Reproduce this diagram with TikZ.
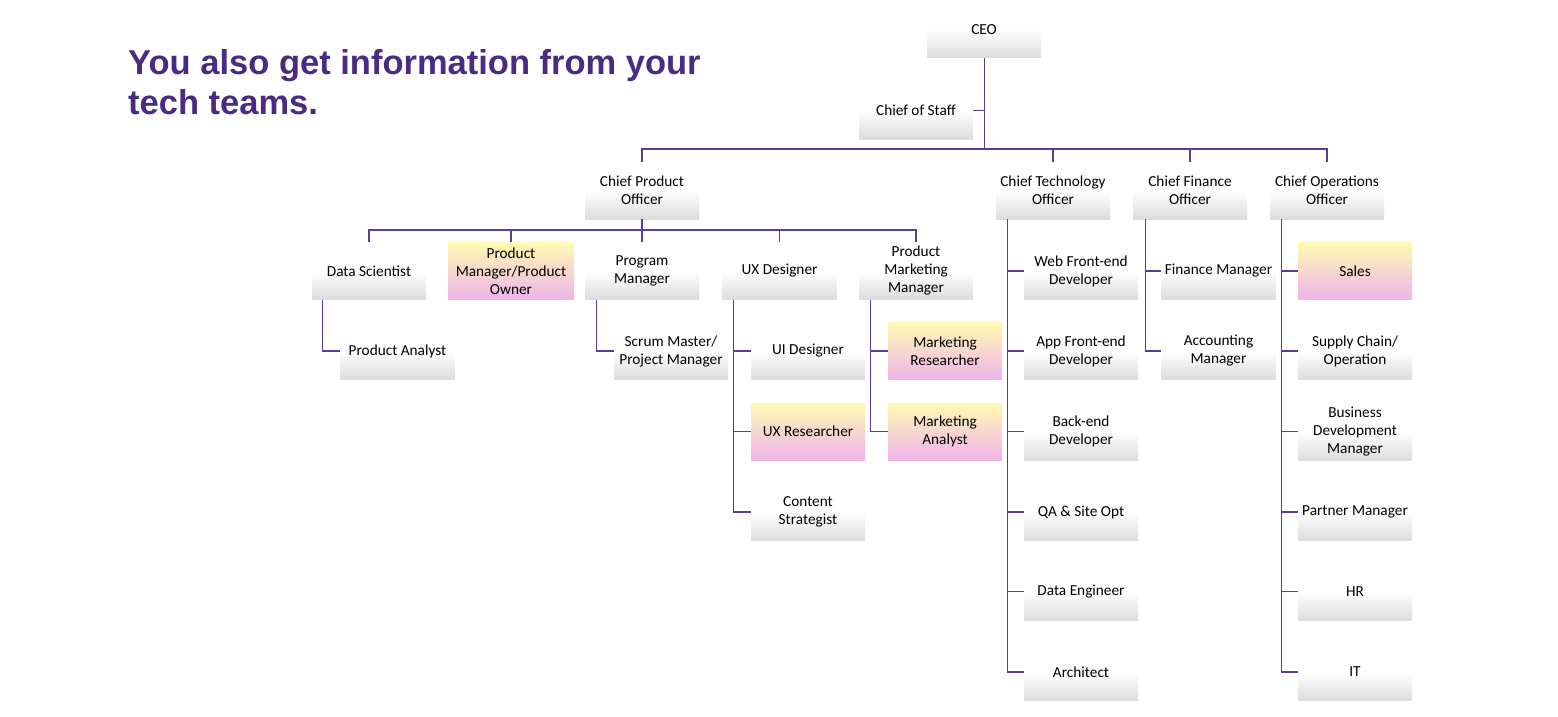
\documentclass[tikz,border=0pt]{standalone}
\usepackage{fontspec}
\setmainfont{Carlito}
\newfontfamily\headfont{Liberation Sans}

\definecolor{linepurple}{HTML}{5B3C9A}
\definecolor{headpurple}{HTML}{4B2A84}
\definecolor{boxgray}{HTML}{DCDCDC}
\definecolor{hiyellow}{HTML}{FFFAB2}
\definecolor{hipink}{HTML}{EEB4EA}

\tikzset{
  role/.style={minimum width=114pt, minimum height=57pt, inner sep=0pt,
    align=center, font=\fontsize{15.3}{18}\selectfont,
    top color=white, bottom color=boxgray, middle color=white},
  hirole/.style={role, top color=hiyellow, bottom color=hipink,
    middle color=hiyellow!50!hipink},
  link/.style={draw=linepurple, line width=1.1pt},
  headline/.style={anchor=base west, inner sep=0pt, text=headpurple,
    font=\headfont\bfseries\fontsize{34.5}{40}\selectfont},
}

\begin{document}
\begin{tikzpicture}[x=1pt, y=-1pt]
\useasboundingbox (0,0) rectangle (1558,717);
\fill[white] (0,0) rectangle (1558,717);

% heading
\node[headline] (head1) at (128,74.5) {You also get information from your};
\node[headline] (head2) at (128,114.5) {tech teams.};

% executive level
\node[role] (ceo) at (984,29.5) {CEO};
\node[role] (cos) at (916,110.5) {Chief of Staff};
\node[role] (cpo) at (642,190.5) {Chief Product\\Officer};
\node[role] (cto) at (1053,190.5) {Chief Technology\\Officer};
\node[role] (cfo) at (1190,190.5) {Chief Finance\\Officer};
\node[role] (coo) at (1327,190.5) {Chief Operations\\Officer};

% product organisation
\node[role] (ds) at (369,271) {Data Scientist};
\node[hirole, minimum width=126pt] (pm) at (511,271) {Product\\Manager/Product\\Owner};
\node[role] (prg) at (642,271) {Program\\Manager};
\node[role] (ux) at (779.5,271) {UX Designer};
\node[role] (pmm) at (916,271) {Product\\Marketing\\Manager};
\node[role] (pa) at (397.5,351) {Product Analyst};
\node[role] (sm) at (671,351) {Scrum Master/\\Project Manager};
\node[role] (uid) at (808,351) {UI Designer};
\node[hirole] (uxr) at (808,431.5) {UX Researcher};
\node[role] (cs) at (808,512) {Content\\Strategist};
\node[hirole] (mr) at (945,351) {Marketing\\Researcher};
\node[hirole] (ma) at (945,431.5) {Marketing\\Analyst};

% technology organisation
\node[role] (web) at (1081,271) {Web Front-end\\Developer};
\node[role] (app) at (1081,351) {App Front-end\\Developer};
\node[role] (be) at (1081,431.5) {Back-end\\Developer};
\node[role] (qa) at (1081,512) {QA \& Site Opt};
\node[role] (de) at (1081,591.5) {Data Engineer};
\node[role] (arch) at (1081,672) {Architect};

% finance organisation
\node[role] (fm) at (1218.5,271) {Finance Manager};
\node[role] (am) at (1218.5,351) {Accounting\\Manager};

% operations organisation
\node[hirole] (sales) at (1355,271) {Sales};
\node[role] (sc) at (1355,351) {Supply Chain/\\Operation};
\node[role] (bdm) at (1355,431.5) {Business\\Development\\Manager};
\node[role] (ptm) at (1355,512) {Partner Manager};
\node[role] (hr) at (1355,591.5) {HR};
\node[role] (it) at (1355,672) {IT};

% top-level bus
\coordinate (bus1) at (984.5,149);
\draw[link] (ceo.south -| bus1) -- (bus1);
\draw[link] (cos.east) -- (cos.east -| bus1);
\draw[link] (cpo.north) |- (bus1);
\draw[link] (coo.north) |- (bus1);
\draw[link] (cto.north) -- (cto.north |- bus1);
\draw[link] (cfo.north) -- (cfo.north |- bus1);

% product bus
\coordinate (bus2) at (642,230);
\draw[link] (cpo.south) -- (bus2);
\draw[link] (ds.north) |- (bus2);
\draw[link] (pmm.north) |- (bus2);
\draw[link] (pm.north) -- (pm.north |- bus2);
\draw[link] (prg.north) -- (prg.north |- bus2);
\draw[link] (ux.north) -- (ux.north |- bus2);

% side branches down the left edge of each parent
\draw[link] ([xshift=11pt]ds.south west) |- (pa.west);
\draw[link] ([xshift=12pt]prg.south west) |- (sm.west);
\foreach \c in {uid,uxr,cs} \draw[link] ([xshift=11pt]ux.south west) |- (\c.west);
\foreach \c in {mr,ma} \draw[link] ([xshift=12pt]pmm.south west) |- (\c.west);
\foreach \c in {web,app,be,qa,de,arch} \draw[link] ([xshift=12pt]cto.south west) |- (\c.west);
\foreach \c in {fm,am} \draw[link] ([xshift=13pt]cfo.south west) |- (\c.west);
\foreach \c in {sales,sc,bdm,ptm,hr,it} \draw[link] ([xshift=12pt]coo.south west) |- (\c.west);
\end{tikzpicture}
\end{document}
